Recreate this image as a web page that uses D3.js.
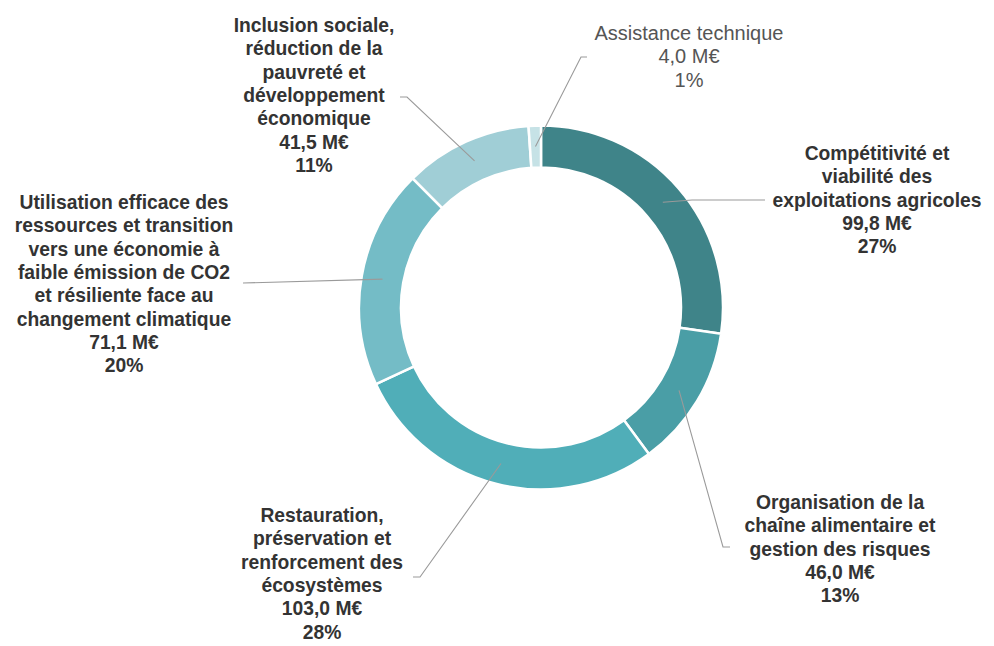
<!DOCTYPE html>
<html>
<head>
<meta charset="utf-8">
<script src="https://cdn.jsdelivr.net/npm/d3@7/dist/d3.min.js"></script>
<style>
  body { margin: 0; background: #fff; }
  text { font-family: "Helvetica Neue", Helvetica, Arial, "Liberation Sans", sans-serif; }
</style>
</head>
<body>
<div id="chart"></div>
<script>

// data, clockwise from 12 o'clock
var names = [
  ["Compétitivité et", "viabilité des", "exploitations agricoles"],
  ["Organisation de la", "chaîne alimentaire et", "gestion des risques"],
  ["Restauration,", "préservation et", "renforcement des", "écosystèmes"],
  ["Utilisation efficace des", "ressources et transition", "vers une économie à", "faible émission de CO2", "et résiliente face au", "changement climatique"],
  ["Inclusion sociale,", "réduction de la", "pauvreté et", "développement", "économique"],
  ["Assistance technique"]
];
var amounts = ["99,8 M€", "46,0 M€", "103,0 M€", "71,1 M€", "41,5 M€", "4,0 M€"];
var values = [99.8, 46.0, 103.0, 71.1, 41.5, 4.0];
var percents = ["27%", "13%", "28%", "20%", "11%", "1%"];
var colors = ["#3f8489", "#4a9ea6", "#50aeb8", "#74bcc6", "#a0ced6", "#c6e2e6"];

var width = 994, height = 646;
var cx = 541, cy = 307.5;
var rOuter = 182, rInner = 140;

// label placement: text centre x, first line y, leader elbow points
var labelLayout = [
  { x: 877, y: 160, bold: true,  leader: [[692, 200], [765, 200]] },
  { x: 840, y: 509, bold: true,  leader: [[723, 547], [730, 547]] },
  { x: 322, y: 522, bold: true,  leader: [[420, 577], [413, 577]] },
  { x: 124, y: 209, bold: true,  leader: [[243, 283]] },
  { x: 314, y: 32,  bold: true,  leader: [[407, 97], [400, 97]] },
  { x: 689, y: 40,  bold: false, leader: [[581, 57], [587, 57]] }
];
var lineH = 23.3;

var svg = d3.select("#chart").append("svg")
  .attr("width", width)
  .attr("height", height);

var pie = d3.pie().sort(null).value(function(d) { return d; });
var arcs = pie(values);

var arc = d3.arc().innerRadius(rInner).outerRadius(rOuter);
var mid = d3.arc().innerRadius((rInner + rOuter) / 2).outerRadius((rInner + rOuter) / 2);

var g = svg.append("g").attr("transform", "translate(" + cx + "," + cy + ")");

g.selectAll("path.slice")
  .data(arcs)
  .enter().append("path")
  .attr("class", "slice")
  .attr("d", arc)
  .attr("fill", function(d, i) { return colors[i]; })
  .attr("stroke", "#fff")
  .attr("stroke-width", 2.5);

// leader lines
var line = d3.line();
arcs.forEach(function(d, i) {
  var c = mid.centroid(d);
  var pts = [[cx + c[0], cy + c[1]]].concat(labelLayout[i].leader);
  svg.append("path")
    .attr("d", line(pts))
    .attr("fill", "none")
    .attr("stroke", "#9a9a9a")
    .attr("stroke-width", 1.1);
});

// labels
names.forEach(function(lines, i) {
  var lay = labelLayout[i];
  var all = lines.concat([amounts[i], percents[i]]);
  var t = svg.append("text")
    .attr("text-anchor", "middle")
    .attr("font-size", lay.bold ? "19.3px" : "20px")
    .attr("font-weight", lay.bold ? "bold" : "normal")
    .attr("fill", lay.bold ? "#333" : "#555");
  all.forEach(function(s, k) {
    t.append("tspan")
      .attr("x", lay.x)
      .attr("y", lay.y + k * lineH)
      .text(s);
  });
});

</script>
</body>
</html>
